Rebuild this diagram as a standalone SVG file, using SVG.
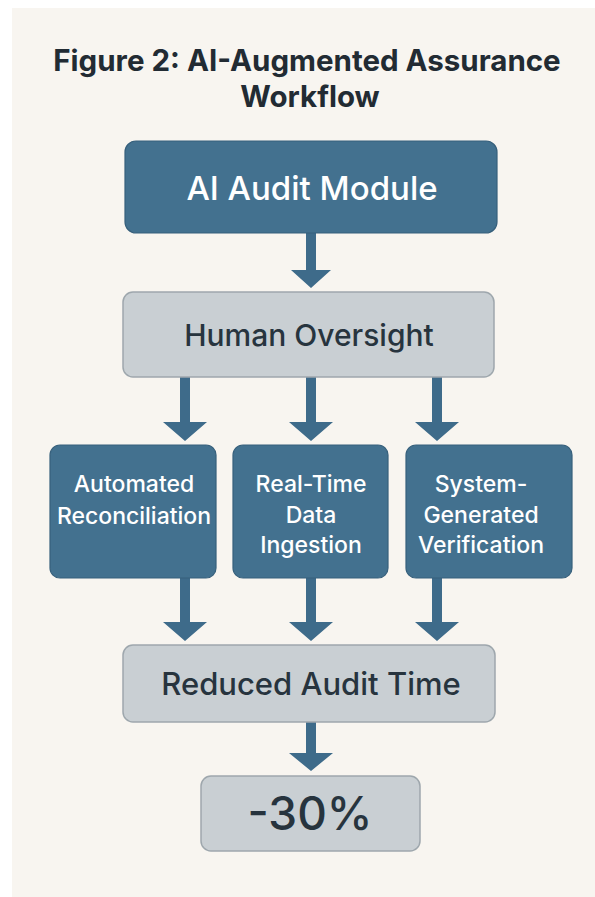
<svg xmlns="http://www.w3.org/2000/svg" width="595" height="897" viewBox="0 0 595 897">
<defs>
<style>
.dark{fill:#43718f;stroke:#37607c;stroke-width:1.2}
.light{fill:#c9cfd3;stroke:#9ea7ad;stroke-width:1.5}
.wt{fill:#ffffff;font-family:Inter,"Liberation Sans",sans-serif;font-weight:500;text-anchor:middle}
.dt{fill:#27343e;font-family:Inter,"Liberation Sans",sans-serif;font-weight:500;text-anchor:middle}
.title{fill:#222b33;font-family:Inter,"Liberation Sans",sans-serif;font-weight:700;font-size:29.5px;text-anchor:middle}
.shaft{fill:#3e6b8a}
</style>
</defs>
<rect x="0" y="0" width="595" height="897" fill="#ffffff"/>
<rect x="12" y="8" width="583" height="889" fill="#f8f5f0"/>
<g id="title">
<text x="307" y="71" class="title">Figure 2: AI-Augmented Assurance</text>
<text x="310" y="107" class="title">Workflow</text>
</g>
<g id="connectors">
<path class="shaft" d="M306,233 h10 v37 h15 l-20,18 l-20,-18 h15 z"/>
<path class="shaft" d="M180,377 h10 v45 h17 l-22,19 l-22,-19 h17 z"/>
<path class="shaft" d="M306,377 h10 v45 h17 l-22,19 l-22,-19 h17 z"/>
<path class="shaft" d="M432,377 h10 v45 h17 l-22,19 l-22,-19 h17 z"/>
<path class="shaft" d="M180,578 h10 v44 h17 l-22,19 l-22,-19 h17 z"/>
<path class="shaft" d="M306,578 h10 v44 h17 l-22,19 l-22,-19 h17 z"/>
<path class="shaft" d="M432,578 h10 v44 h17 l-22,19 l-22,-19 h17 z"/>
<path class="shaft" d="M306,722 h10 v31 h17 l-22,18 l-22,-18 h17 z"/>
</g>
<g id="ai-audit-module">
<rect x="125" y="141" width="372" height="92" rx="11" class="dark"/>
<text x="312" y="200" class="wt" font-size="33">AI Audit Module</text>
</g>
<g id="human-oversight">
<rect x="123" y="292" width="371" height="85" rx="10" class="light"/>
<text x="309" y="346" class="dt" font-size="30">Human Oversight</text>
</g>
<g id="automated-reconciliation">
<rect x="50" y="445" width="166" height="133" rx="10" class="dark"/>
<text x="134" y="492" class="wt" font-size="23">Automated</text>
<text x="134" y="524" class="wt" font-size="23">Reconciliation</text>
</g>
<g id="real-time-data-ingestion">
<rect x="233" y="445" width="155" height="133" rx="10" class="dark"/>
<text x="311" y="492" class="wt" font-size="23">Real-Time</text>
<text x="311" y="523" class="wt" font-size="23">Data</text>
<text x="311" y="553" class="wt" font-size="23">Ingestion</text>
</g>
<g id="system-generated-verification">
<rect x="406" y="445" width="166" height="133" rx="10" class="dark"/>
<text x="481" y="492" class="wt" font-size="23">System-</text>
<text x="481" y="523" class="wt" font-size="23">Generated</text>
<text x="481" y="553" class="wt" font-size="23">Verification</text>
</g>
<g id="reduced-audit-time">
<rect x="123" y="645" width="372" height="77" rx="10" class="light"/>
<text x="311" y="695" class="dt" font-size="31">Reduced Audit Time</text>
</g>
<g id="minus-30">
<rect x="201" y="776" width="219" height="75" rx="10" class="light"/>
<text x="310" y="830" class="dt" font-size="46" font-weight="400">-30%</text>
</g>
</svg>
